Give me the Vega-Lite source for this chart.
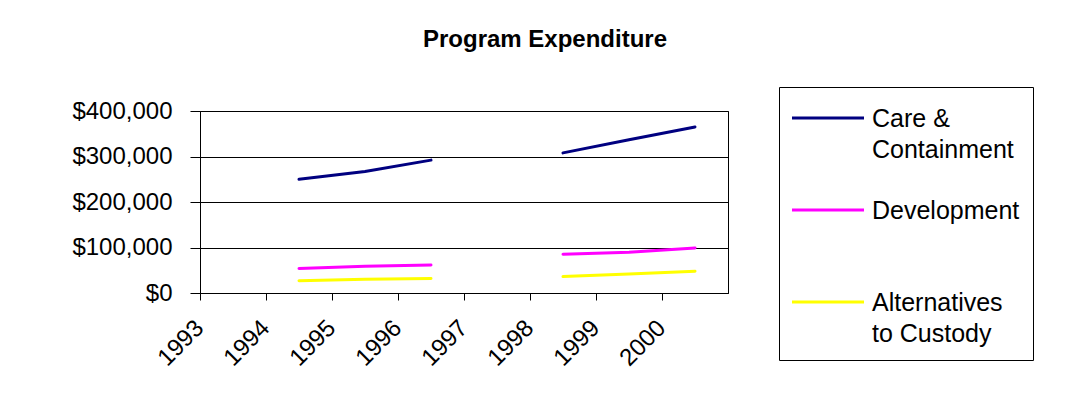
{
  "$schema": "https://vega.github.io/schema/vega-lite/v6.json",
  "autosize": "none",
  "width": 528,
  "height": 182,
  "padding": {"left": 200, "top": 111, "right": 357, "bottom": 126},
  "background": "white",
  "title": {
    "text": "Program Expenditure",
    "font": "Liberation Sans",
    "fontSize": 24,
    "fontWeight": "bold",
    "color": "black",
    "anchor": "middle",
    "frame": "group",
    "dx": 81,
    "offset": 35
  },
  "data": {
    "values": [
      {"year": "1993", "program": "Care & Containment", "value": null},
      {"year": "1994", "program": "Care & Containment", "value": 250000},
      {"year": "1995", "program": "Care & Containment", "value": 267000},
      {"year": "1996", "program": "Care & Containment", "value": 292000},
      {"year": "1997", "program": "Care & Containment", "value": null},
      {"year": "1998", "program": "Care & Containment", "value": 308000},
      {"year": "1999", "program": "Care & Containment", "value": 337000},
      {"year": "2000", "program": "Care & Containment", "value": 365000},
      {"year": "1993", "program": "Development", "value": null},
      {"year": "1994", "program": "Development", "value": 54000},
      {"year": "1995", "program": "Development", "value": 59000},
      {"year": "1996", "program": "Development", "value": 61500},
      {"year": "1997", "program": "Development", "value": null},
      {"year": "1998", "program": "Development", "value": 85000},
      {"year": "1999", "program": "Development", "value": 89500},
      {"year": "2000", "program": "Development", "value": 99000},
      {"year": "1993", "program": "Alternatives to Custody", "value": null},
      {"year": "1994", "program": "Alternatives to Custody", "value": 27000},
      {"year": "1995", "program": "Alternatives to Custody", "value": 30000},
      {"year": "1996", "program": "Alternatives to Custody", "value": 32000},
      {"year": "1997", "program": "Alternatives to Custody", "value": null},
      {"year": "1998", "program": "Alternatives to Custody", "value": 36000},
      {"year": "1999", "program": "Alternatives to Custody", "value": 42000},
      {"year": "2000", "program": "Alternatives to Custody", "value": 48000}
    ]
  },
  "mark": {"type": "line", "strokeWidth": 3, "invalid": "break-paths-show-domains", "strokeCap": "round"},
  "encoding": {
    "x": {
      "field": "year",
      "type": "ordinal",
      "sort": null,
      "scale": {"type": "band", "domain": ["1993","1994","1995","1996","1997","1998","1999","2000"], "paddingInner": 0, "paddingOuter": 0},
      "axis": {
        "title": null,
        "bandPosition": 0,
        "labelAngle": -45,
        "labelAlign": "right",
        "labelBaseline": "middle",
        "labelPadding": 24,
        "labelOffset": -33,
        "labelFont": "Liberation Sans",
        "labelFontSize": 24,
        "labelColor": "black",
        "tickSize": 7,
        "tickColor": "black",
        "domainColor": "black",
        "grid": false,
        "labelOverlap": false
      }
    },
    "y": {
      "field": "value",
      "type": "quantitative",
      "scale": {"domain": [0, 400000], "nice": false},
      "axis": {
        "title": null,
        "values": [0, 100000, 200000, 300000, 400000],
        "format": "$,.0f",
        "labelFont": "Liberation Sans",
        "labelFontSize": 24,
        "labelColor": "black",
        "labelPadding": 18,
        "tickSize": 10,
        "tickColor": "black",
        "domainColor": "black",
        "grid": true,
        "gridColor": "black",
        "gridOpacity": 1
      }
    },
    "color": {
      "field": "program",
      "type": "nominal",
      "scale": {
        "domain": ["Care & Containment", "Development", "Alternatives to Custody"],
        "range": ["#000080", "#FF00FF", "#FFFF00"]
      },
      "legend": {
        "title": null,
        "orient": "none",
        "legendX": 579,
        "legendY": -24,
        "padding": 13,
        "strokeColor": "black",
        "fillColor": "white",
        "symbolType": "M-2.1818,0H2.1818",
        "symbolSize": 1089,
        "symbolStrokeWidth": 3,
        "symbolOffset": 18,
        "symbolFillColor": "transparent",
        "labelFont": "Liberation Sans",
        "labelFontSize": 25,
        "labelColor": "black",
        "labelOffset": 26,
        "labelLimit": 400,
        "labelBaseline": "line-top",
        "gridAlign": "all",
        "rowPadding": 29,
        "labelExpr": "datum.label == 'Care & Containment' ? ['Care &', 'Containment'] : datum.label == 'Alternatives to Custody' ? ['Alternatives', 'to Custody'] : datum.label",
        "encode": {
          "labels": {"update": {"lineHeight": {"value": 31}, "dy": {"value": -14}}}
        }
      }
    }
  },
  "config": {
    "view": {"stroke": "black", "strokeWidth": 1},
    "font": "Liberation Sans"
  }
}
